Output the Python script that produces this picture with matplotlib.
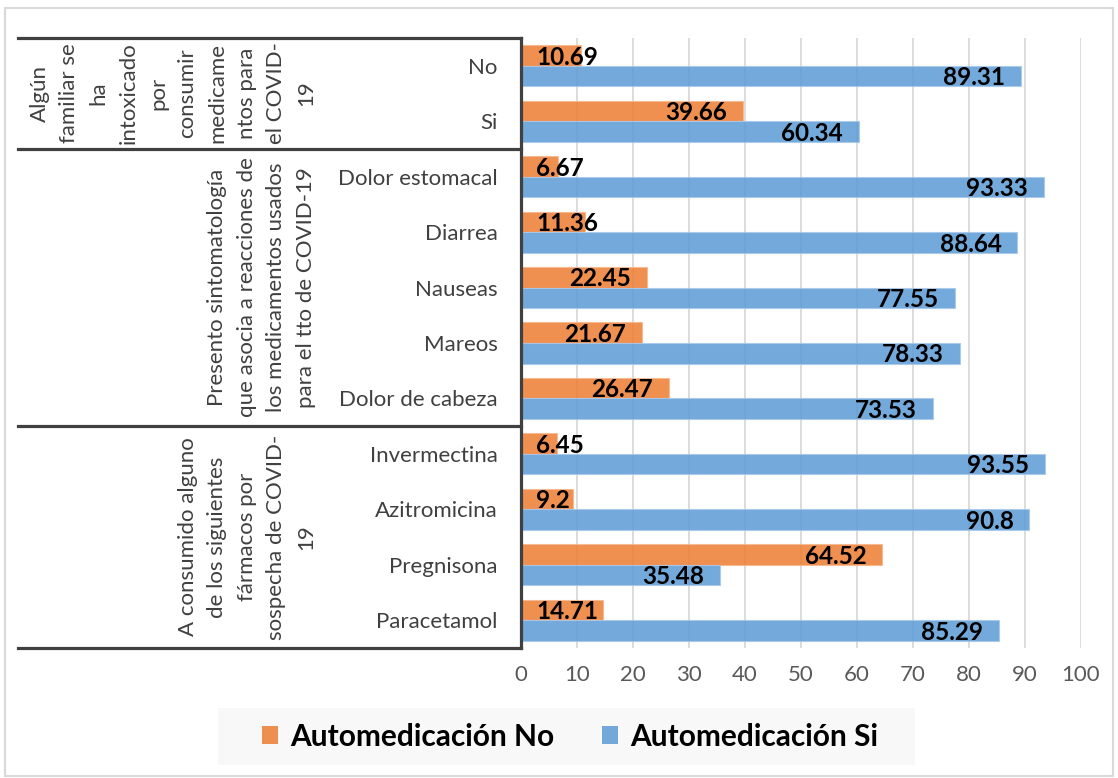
# Automedicación COVID-19: barras horizontales agrupadas
import numpy as np
import matplotlib.pyplot as plt
from matplotlib.patches import Patch, Rectangle
from matplotlib.lines import Line2D

plt.rcParams['font.family'] = ['Lato', 'DejaVu Sans']

categorias = ['No', 'Si', 'Dolor estomacal', 'Diarrea', 'Nauseas', 'Mareos',
              'Dolor de cabeza', 'Invermectina', 'Azitromicina', 'Pregnisona',
              'Paracetamol']
auto_no = [10.69, 39.66, 6.67, 11.36, 22.45, 21.67, 26.47, 6.45, 9.2, 64.52, 14.71]
auto_si = [89.31, 60.34, 93.33, 88.64, 77.55, 78.33, 73.53, 93.55, 90.8, 35.48, 85.29]
etiquetas_no = ['10.69', '39.66', '6.67', '11.36', '22.45', '21.67', '26.47',
                '6.45', '9.2', '64.52', '14.71']
etiquetas_si = ['89.31', '60.34', '93.33', '88.64', '77.55', '78.33', '73.53',
                '93.55', '90.8', '35.48', '85.29']
grupos = [
    ("Algún\nfamiliar se\nha\nintoxicado\npor\nconsumir\nmedicame\nntos para\nel COVID-\n19", 0, 2),
    ("Presento sintomatología\nque asocia a reacciones de\nlos medicamentos usados\npara el tto de COVID-19", 2, 7),
    ("A consumido alguno\nde los siguientes\nfármacos por\nsospecha de COVID-\n19", 7, 11),
]
series = ['Automedicación No', 'Automedicación Si']

W, H = 1118, 778
C_NO = '#ED7D31'
C_SI = '#5B9BD5'
DARK = '#404040'

fig = plt.figure(figsize=(W / 100, H / 100), dpi=100)
ax_l, ax_r, ax_t, ax_b = 521, 1081, 38, 648
ax = fig.add_axes([ax_l / W, 1 - ax_b / H, (ax_r - ax_l) / W, (ax_b - ax_t) / H])

n = len(categorias)
y = np.arange(n)
h = 0.37
ax.barh(y - h / 2, auto_no, height=h, color=C_NO, alpha=0.85, edgecolor='#F6B890', linewidth=0.8, zorder=2)
ax.barh(y + h / 2, auto_si, height=h, color=C_SI, alpha=0.85, edgecolor='#A9C9EA', linewidth=0.8, zorder=2)

ax.set_xlim(0, 100)
ax.set_ylim(n - 0.5, -0.5)
ax.set_xticks(np.arange(0, 101, 10))
ax.tick_params(axis='x', length=0, pad=12, labelsize=16, labelcolor='#595959')
ax.set_yticks(y)
ax.set_yticklabels(categorias)
ax.tick_params(axis='y', length=0, pad=17, labelsize=16, labelcolor=DARK)
ax.grid(axis='x', color='#D9D9D9', linewidth=1.3, zorder=0)
ax.set_axisbelow(True)
for s in ['top', 'right', 'bottom']:
    ax.spines[s].set_visible(False)
ax.spines['left'].set_color(DARK)
ax.spines['left'].set_linewidth(2.3)
ax.spines['left'].set_zorder(5)

# etiquetas de valor
px = 100 / (ax_r - ax_l)
textos = []
for vals, labs, off in [(auto_no, etiquetas_no, -h / 2), (auto_si, etiquetas_si, h / 2)]:
    for i, (v, lab) in enumerate(zip(vals, labs)):
        t = ax.text(v - 16 * px, i + off + 0.03, lab, ha='right', va='center',
                    fontsize=17.5, fontweight='bold', color='black', zorder=4)
        textos.append(t)
fig.canvas.draw()
r = fig.canvas.get_renderer()
for t in textos:
    bb = t.get_window_extent(r)
    if bb.x0 < ax_l + 15:
        t.set_ha('left')
        t.set_x(15 * px)

# tabla de categorías a la izquierda
bordes = [0] + [g[2] for g in grupos]
for b in bordes:
    yy = 1 - (ax_t + b * (ax_b - ax_t) / n) / H
    fig.add_artist(Line2D([18 / W, ax_l / W], [yy, yy], color=DARK, linewidth=2.3))
for texto, a, b in grupos:
    yc = 1 - (ax_t + (a + b) / 2 * (ax_b - ax_t) / n) / H
    fig.text(316 / W, yc, texto, rotation=90, ha='right', va='center',
             multialignment='center', fontsize=16, color=DARK, linespacing=1.6)

# leyenda
fig.add_artist(Rectangle((218 / W, 1 - 765 / H), 697 / W, 57 / H,
                         facecolor='#F8F8F8', edgecolor='none', zorder=0))
handles = [Patch(facecolor=C_NO, alpha=0.85, edgecolor='none'),
           Patch(facecolor=C_SI, alpha=0.85, edgecolor='none')]
fig.legend(handles, series, loc='center', bbox_to_anchor=(570 / W, 1 - 737 / H),
           ncol=2, frameon=False, prop={'weight': 'bold', 'size': 21.5},
           handlelength=0.55, handleheight=0.55, handletextpad=0.4, columnspacing=1.6)

# borde del gráfico
fig.add_artist(Rectangle((5 / W, 1 - 776 / H), 1108 / W, 768 / H, facecolor='none',
                         edgecolor='#D9D9D9', linewidth=1.5))

fig.savefig('out.png', dpi=100)
